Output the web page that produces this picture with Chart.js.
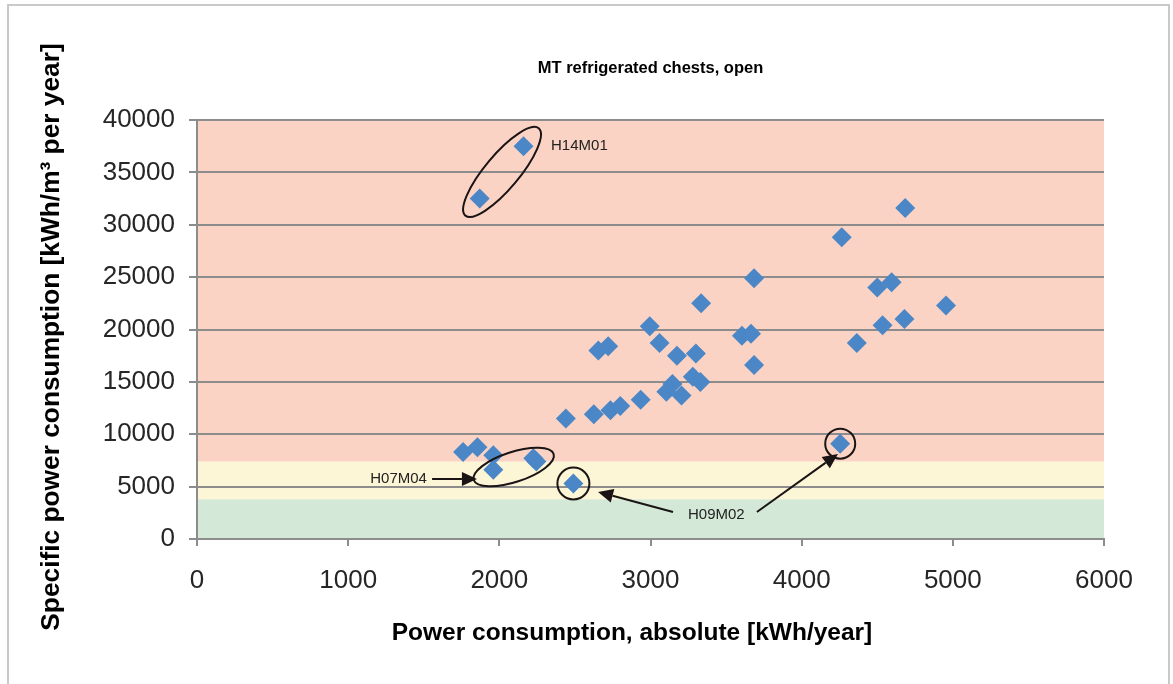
<!DOCTYPE html>
<html>
<head>
<meta charset="utf-8">
<script src="https://cdn.jsdelivr.net/npm/chart.js@4/dist/chart.umd.min.js"></script>
<style>
  html, body { margin: 0; padding: 0; background: #fff; }
  #wrap { position: relative; width: 1173px; height: 684px; overflow: hidden; }
  #frame { position: absolute; left: 7px; top: 4px; width: 1163px; height: 700px; border: 2px solid #c9c9c9; box-sizing: border-box; }
  #myChart { position: absolute; left: 0; top: 0; }
</style>
</head>
<body>
<div id="wrap">
  <div id="frame"></div>
  <canvas id="myChart" width="1173" height="684"></canvas>
</div>
<script>
// absolute power consumption [kWh/year]
const powerAbs = [
  1760, 1855, 1960, 1960, 2225, 2245, 2490, 1870, 2160,
  2440, 2625, 2735, 2800, 2935, 3105, 3145, 3205, 3280, 3330,
  2655, 2720, 2995, 3060, 3175, 3300, 3335, 3605, 3665, 3685, 3685,
  4255, 4265, 4365, 4500, 4595, 4535, 4680, 4685, 4955
];
// specific power consumption [kWh/m3 per year]
const powerSpec = [
  8300, 8750, 8000, 6600, 7700, 7400, 5300, 32500, 37500,
  11500, 11900, 12300, 12700, 13300, 14050, 14800, 13700, 15500, 15000,
  18000, 18400, 20300, 18700, 17500, 17700, 22500, 19400, 19600, 16600, 24900,
  9100, 28800, 18700, 24000, 24500, 20400, 21000, 31600, 22300
];
const xTicks = [0, 1000, 2000, 3000, 4000, 5000, 6000];
const yTicks = [0, 5000, 10000, 15000, 20000, 25000, 30000, 35000, 40000];
// rating bands (upper limits)
const bandLimits = [3800, 7400, 40000];
const bandColors = ["#d3e8d6", "#fcf6d6", "#fbd3c4"];

const points = powerAbs.map((x, i) => ({ x: x, y: powerSpec[i] }));

// markings drawn on top, in data units
const ellipses = [
  { x: 2018, y: 35040, rx: 57, ry: 17, rot: -50 },
  { x: 2095, y: 6870, rx: 42, ry: 15, rot: -18 },
  { x: 2490, y: 5300, rx: 16, ry: 16, rot: 0 },
  { x: 4255, y: 9100, rx: 15, ry: 15, rot: 0 }
];
const arrows = [
  { x1: 1555, y1: 5730, x2: 1852, y2: 5730 },
  { x1: 3149, y1: 2580, x2: 2653, y2: 4490 },
  { x1: 3704, y1: 2580, x2: 4240, y2: 8120 }
];
const labels = [
  { text: "H14M01", x: 2342, y: 37520, align: "left" },
  { text: "H07M04", x: 1521, y: 5730, align: "right" },
  { text: "H09M02", x: 3248, y: 2290, align: "left" }
];

const fontFam = "'Liberation Sans', Arial, sans-serif";

const decor = {
  id: "decor",
  beforeDraw(chart) {
    const { ctx, chartArea: a, scales: { y } } = chart;
    ctx.save();
    let lo = 0;
    bandLimits.forEach((hi, i) => {
      const top = y.getPixelForValue(hi);
      const bot = y.getPixelForValue(lo);
      ctx.fillStyle = bandColors[i];
      ctx.fillRect(a.left, top, a.right - a.left, bot - top);
      lo = hi;
    });
    ctx.restore();
  },
  afterDatasetsDraw(chart) {
    const { ctx, chartArea: a, scales: { x, y } } = chart;
    ctx.save();
    ctx.strokeStyle = "#1a1414";
    ctx.fillStyle = "#1a1414";
    ctx.lineWidth = 2;
    ellipses.forEach(e => {
      ctx.beginPath();
      ctx.ellipse(x.getPixelForValue(e.x), y.getPixelForValue(e.y), e.rx, e.ry, e.rot * Math.PI / 180, 0, Math.PI * 2);
      ctx.stroke();
    });
    arrows.forEach(r => {
      const x1 = x.getPixelForValue(r.x1), y1 = y.getPixelForValue(r.y1);
      const x2 = x.getPixelForValue(r.x2), y2 = y.getPixelForValue(r.y2);
      const ang = Math.atan2(y2 - y1, x2 - x1);
      const hl = 15, hw = 7;
      const bx = x2 - Math.cos(ang) * hl, by = y2 - Math.sin(ang) * hl;
      ctx.beginPath();
      ctx.moveTo(x1, y1);
      ctx.lineTo(bx, by);
      ctx.stroke();
      ctx.beginPath();
      ctx.moveTo(x2, y2);
      ctx.lineTo(bx - Math.sin(ang) * hw, by + Math.cos(ang) * hw);
      ctx.lineTo(bx + Math.sin(ang) * hw, by - Math.cos(ang) * hw);
      ctx.closePath();
      ctx.fill();
    });
    ctx.fillStyle = "#222";
    ctx.font = "15px " + fontFam;
    ctx.textBaseline = "middle";
    labels.forEach(l => {
      ctx.textAlign = l.align;
      ctx.fillText(l.text, x.getPixelForValue(l.x), y.getPixelForValue(l.y));
    });

    // chart title and axis titles
    ctx.fillStyle = "#000";
    ctx.textAlign = "center";
    ctx.font = "bold 16.5px " + fontFam;
    ctx.fillText("MT refrigerated chests, open", (a.left + a.right) / 2, 68);
    ctx.font = "bold 24.5px " + fontFam;
    ctx.fillText("Power consumption, absolute [kWh/year]", 632, 633);
    ctx.translate(52, 337);
    ctx.rotate(-Math.PI / 2);
    ctx.font = "bold 26.3px " + fontFam;
    ctx.fillText("Specific power consumption [kWh/m³ per year]", 0, 0);
    ctx.restore();
  }
};

new Chart(document.getElementById("myChart"), {
  type: "scatter",
  data: {
    datasets: [
      {
        data: points,
        pointStyle: "rectRot",
        pointRadius: 10,
        pointHoverRadius: 10,
        borderWidth: 0,
        backgroundColor: "#4b87c6",
        borderColor: "#4b87c6"
      }
    ]
  },
  options: {
    responsive: false,
    animation: false,
    devicePixelRatio: 1,
    layout: { padding: { left: 0, right: 69, top: 120, bottom: 0 } },
    plugins: { legend: { display: false }, tooltip: { enabled: false } },
    scales: {
      x: {
        type: "linear",
        min: 0,
        max: 6000,
        afterBuildTicks: s => { s.ticks = xTicks.map(v => ({ value: v })); },
        afterFit: s => { s.height = 145; },
        ticks: { color: "#262626", font: { size: 26, family: fontFam }, padding: 19, maxRotation: 0, callback: v => String(v) },
        grid: { display: true, drawOnChartArea: false, drawTicks: true, tickLength: 7, color: "#8c8c8c", lineWidth: 2 },
        border: { display: true, color: "#8c8c8c", width: 2 },
        title: { display: false }
      },
      y: {
        type: "linear",
        min: 0,
        max: 40000,
        afterBuildTicks: s => { s.ticks = yTicks.map(v => ({ value: v })); },
        afterFit: s => { s.width = 197; },
        ticks: { color: "#262626", font: { size: 26, family: fontFam }, padding: 14, callback: v => String(v) },
        grid: { color: "#8c8c8c", lineWidth: 2, tickLength: 8 },
        border: { display: true, color: "#8c8c8c", width: 2 },
        title: { display: false }
      }
    }
  },
  plugins: [decor]
});
</script>
</body>
</html>
